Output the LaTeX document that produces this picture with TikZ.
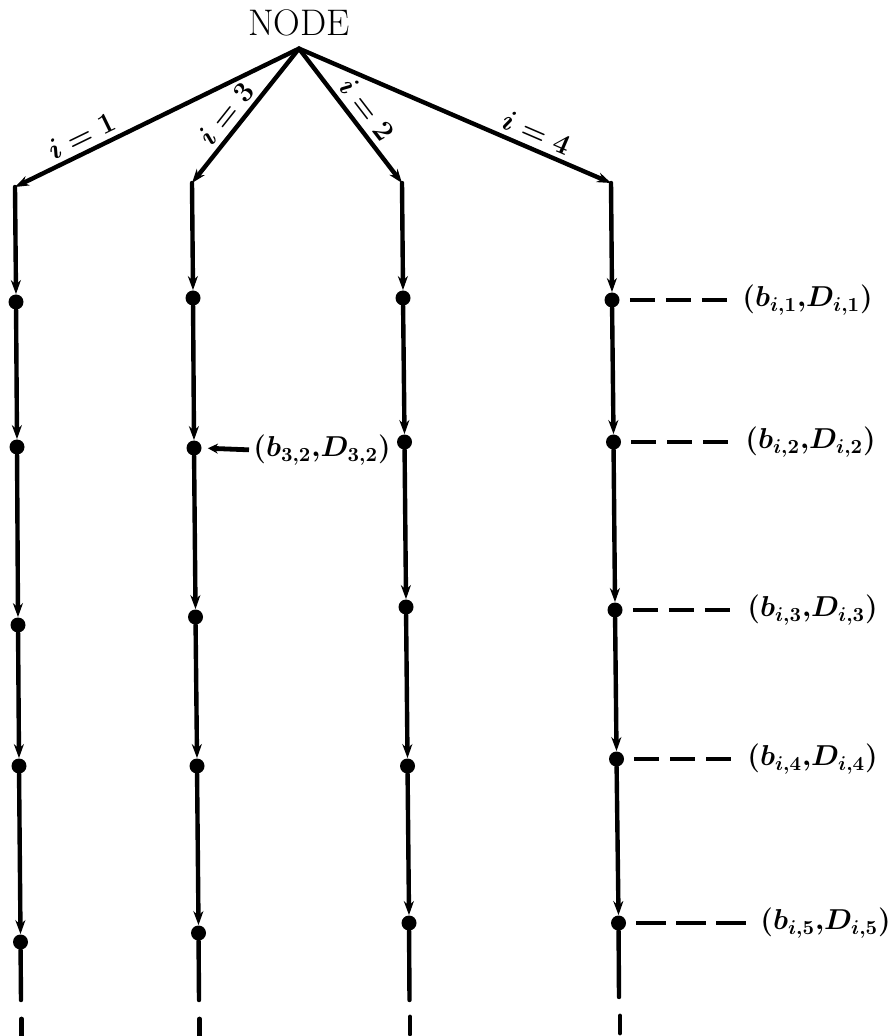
\documentclass[tikz,border=0pt]{standalone}
\usetikzlibrary{arrows.meta,calc}
\begin{document}
\begin{tikzpicture}[x=0.5pt,y=-0.5pt,
  edge/.style={line width=2.2pt,line cap=round},
  arr/.style={edge,-{Stealth[length=7pt,width=5pt]}},
  dot/.style={circle,fill=black,inner sep=0pt,minimum size=7.5pt},
  blab/.style={font=\fontsize{15}{17}\selectfont\boldmath,sloped,above,inner sep=2.5pt},
  clab/.style={font=\fontsize{14.5}{18}\selectfont\boldmath,anchor=west,inner sep=0pt},
  leader/.style={line width=2.4pt,dash pattern=on 12.5pt off 5.5pt},
  tail/.style={line width=2.4pt,line cap=round}]
\useasboundingbox (0,0) rectangle (893,1036);
% root
\node[font=\fontsize{18.5}{20}\selectfont,inner sep=6pt] (root) at (299,23) {NODE};
% corners
\coordinate (c1) at (15,187);
\coordinate (c2) at (192,183);
\coordinate (c3) at (402,183);
\coordinate (c4) at (611,183);
% branches
\draw[arr] (root.south) -- node[blab,pos=0.74] {$i=1$} (c1);
\draw[arr] (root.south) -- node[blab,pos=0.56] {$i=3$} (c2);
\draw[arr] (root.south) -- node[blab,pos=0.53] {$i=2$} (c3);
\draw[arr] (root.south) -- node[blab,pos=0.74] {$i=4$} (c4);
% dots
\node[dot] (d11) at (16,302) {};
\node[dot] (d12) at (17,447) {};
\node[dot] (d13) at (18,625) {};
\node[dot] (d14) at (19,766) {};
\node[dot] (d15) at (20.5,942) {};
\node[dot] (d21) at (193,298) {};
\node[dot] (d22) at (194,448) {};
\node[dot] (d23) at (195.5,617) {};
\node[dot] (d24) at (197,766) {};
\node[dot] (d25) at (198.5,933) {};
\node[dot] (d31) at (403,298) {};
\node[dot] (d32) at (404.5,442) {};
\node[dot] (d33) at (406,607) {};
\node[dot] (d34) at (407.5,766) {};
\node[dot] (d35) at (409,923) {};
\node[dot] (d41) at (612,300) {};
\node[dot] (d42) at (613.5,442) {};
\node[dot] (d43) at (615,610) {};
\node[dot] (d44) at (616.5,759) {};
\node[dot] (d45) at (618.5,923) {};
% column ends
\coordinate (e1) at (21,1000);
\coordinate (e2) at (199,1000);
\coordinate (e3) at (409.5,1000);
\coordinate (e4) at (619,997);
\coordinate (f1a) at (21.5,1019); \coordinate (f1b) at (21.5,1036);
\coordinate (f2a) at (199.5,1019); \coordinate (f2b) at (199.5,1036);
\coordinate (f3a) at (410,1017); \coordinate (f3b) at (410,1034);
\coordinate (f4a) at (620,1016); \coordinate (f4b) at (620,1033);
% columns
\foreach \c in {1,2,3,4}{
  \draw[arr] (c\c) -- (d\c1.north);
  \draw[arr] (d\c1) -- (d\c2.north);
  \draw[arr] (d\c2) -- (d\c3.north);
  \draw[arr] (d\c3) -- (d\c4.north);
  \draw[arr] (d\c4) -- (d\c5.north);
  \draw[edge] (d\c5) -- (e\c);
  \draw[tail] (f\c a) -- (f\c b);
}
% label on column 3 (i=3)
\node[clab] (l32) at (253,450) {$(b_{3,2},\!D_{3,2})$};
\draw[line width=2.4pt,-{Stealth[length=5pt,width=5pt]},shorten <=2pt,shorten >=3pt] (l32.west) -- (d22.east);
% labels on column 4
\node[clab] (l1) at (742,300) {$(b_{i,1},\!D_{i,1})$};
\node[clab] (l2) at (745,442) {$(b_{i,2},\!D_{i,2})$};
\node[clab] (l3) at (747,610) {$(b_{i,3},\!D_{i,3})$};
\node[clab] (l4) at (747,759) {$(b_{i,4},\!D_{i,4})$};
\node[clab] (l5) at (760,923) {$(b_{i,5},\!D_{i,5})$};
\draw[leader,shorten <=5pt,shorten >=7.75pt] (d41.east) -- (l1.west);
\draw[leader,shorten <=5pt,shorten >=8.5pt] (d42.east) -- (l2.west);
\draw[leader,shorten <=5pt,shorten >=8.75pt] (d43.east) -- (l3.west);
\draw[leader,shorten <=5pt,shorten >=8pt] (d44.east) -- (l4.west);
\draw[leader,dash pattern=on 15pt off 5pt,shorten <=5pt,shorten >=7pt] (d45.east) -- (l5.west);
\end{tikzpicture}
\end{document}
